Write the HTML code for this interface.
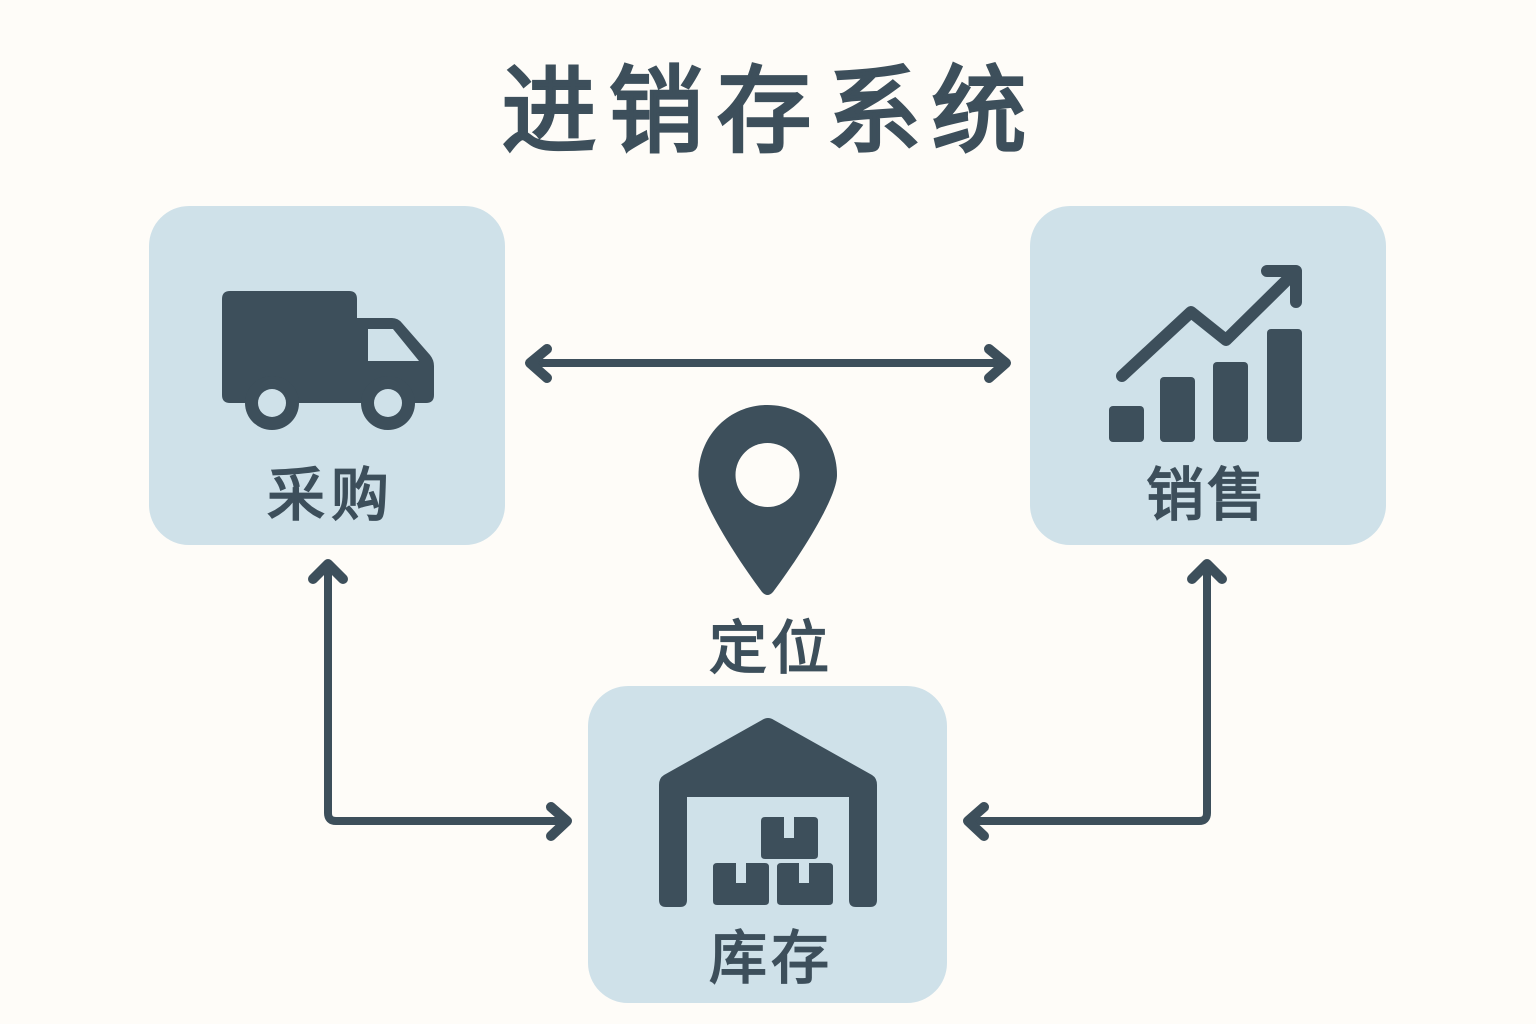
<!DOCTYPE html>
<html lang="zh"><head><meta charset="utf-8"><title>进销存系统</title>
<style>
html,body{margin:0;padding:0;background:#fefcf8}
svg{display:block}
text{font-family:"Liberation Sans","Noto Sans CJK SC",sans-serif;font-weight:400;fill:#3d4f5b;stroke:#3d4f5b;text-anchor:middle}
.t{font-size:95px;stroke-width:3.2px}
.l{font-size:58px;stroke-width:1.8px}
</style></head><body>
<svg width="1536" height="1024" viewBox="0 0 1536 1024" xmlns="http://www.w3.org/2000/svg">
<rect width="1536" height="1024" fill="#fefcf8"/>
<rect x="149" y="206" width="356" height="339" rx="40" fill="#cfe1e9"/>
<rect x="1030" y="206" width="356" height="339" rx="40" fill="#cfe1e9"/>
<rect x="588" y="686" width="359" height="317" rx="40" fill="#cfe1e9"/>

<text class="t" x="549" y="144">进</text>
<text class="t" x="656" y="144">销</text>
<text class="t" x="764" y="144">存</text>
<text class="t" x="874" y="144">系</text>
<text class="t" x="979" y="144">统</text>

<text class="l" x="296" y="515">采</text><text class="l" x="360" y="515">购</text>
<text class="l" x="1175" y="515">销</text><text class="l" x="1236" y="515">售</text>
<text class="l" x="738" y="668">定</text><text class="l" x="800" y="668">位</text>
<text class="l" x="738" y="978">库</text><text class="l" x="800" y="978">存</text>

<g fill="#3d4f5b">
<!-- truck -->
<path d="M230 291H349Q357 291 357 299V318H392Q398 318 402 323L430 355Q434 360 434 366V395Q434 403 426 403H230Q222 403 222 395V299Q222 291 230 291Z"/>
<path d="M368 329H393L419 361H368Z" fill="#cfe1e9"/>
<circle cx="272" cy="403" r="27"/><circle cx="388" cy="403" r="27"/>
<circle cx="272" cy="403" r="14" fill="#cfe1e9"/><circle cx="388" cy="403" r="14" fill="#cfe1e9"/>
<!-- chart -->
<rect x="1109" y="406" width="35" height="36" rx="4"/>
<rect x="1160" y="377" width="35" height="65" rx="4"/>
<rect x="1213" y="362" width="35" height="80" rx="4"/>
<rect x="1267" y="329" width="35" height="113" rx="4"/>
<!-- pin -->
<path d="M767.500 405C806 405 837 436 837 475C837 498 800 556 773 592Q767.500 598 762 592C735 556 698.500 498 698.500 475C698.500 436 729 405 767.500 405Z"/>
<circle cx="767.500" cy="475" r="32" fill="#fefcf8"/>
<!-- warehouse -->
<path fill-rule="evenodd" d="M762 720Q768 716 774 720L872 775Q877 778 877 785V900Q877 907 870 907H856Q849 907 849 900V797H687V900Q687 907 680 907H666Q659 907 659 900V785Q659 778 664 775Z"/>
<path d="M765 817H784V838H794V817H814Q818 817 818 821V855Q818 859 814 859H765Q761 859 761 855V821Q761 817 765 817Z"/>
<path d="M717 863H736V883H746V863H765Q769 863 769 867V901Q769 905 765 905H717Q713 905 713 901V867Q713 863 717 863Z"/>
<path d="M781 863H799V883H809V863H829Q833 863 833 867V901Q833 905 829 905H781Q777 905 777 901V867Q777 863 781 863Z"/>
</g>

<g fill="none" stroke="#3d4f5b" stroke-linecap="round" stroke-linejoin="round">
<path d="M1122 376L1191 312L1226 340L1294 273M1267 271H1296V302" stroke-width="12"/>
<g stroke-width="8">
<path d="M530 363H1005"/>
<path d="M328 564V813Q328 821 336 821H567"/>
<path d="M1207 564V813Q1207 821 1199 821H968"/>
</g>
<g stroke-width="10">
<path d="M547 349L530 363L547 378M989 349L1006 363L989 378"/>
<path d="M313 579L328 564L343 579M551 807L567 821L551 836"/>
<path d="M1192 579L1207 564L1222 579M984 807L968 821L984 836"/>
</g>
</g>
</svg>
</body></html>
